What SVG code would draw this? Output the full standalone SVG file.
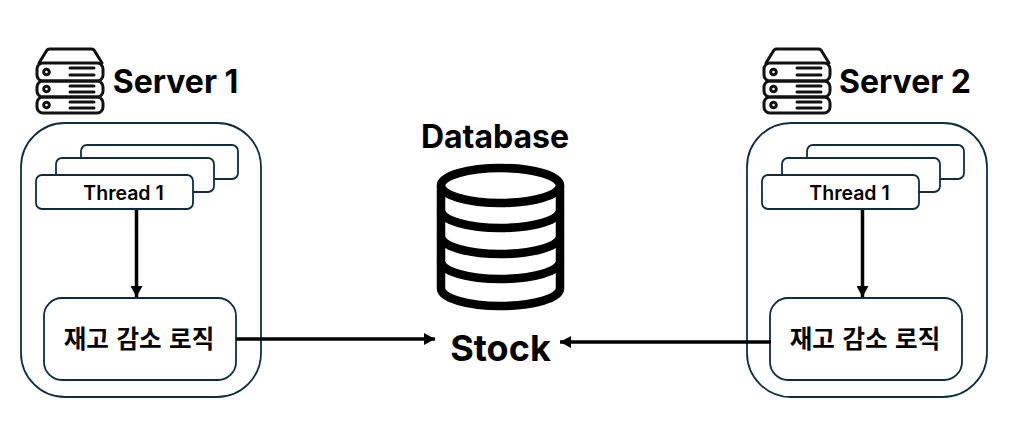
<svg xmlns="http://www.w3.org/2000/svg" width="1024" height="435" viewBox="0 0 1024 435">
<style>
.box{fill:#fff;stroke:#0f2d3c;stroke-width:1.8}
.t{font-family:Inter,"Noto Sans CJK KR",sans-serif;fill:#000;text-anchor:middle}
.h{font-size:32px;font-weight:700}
.th{font-size:19.500px;font-weight:600}
.k{font-size:24.500px;font-weight:700;font-family:"Noto Sans CJK KR",sans-serif;word-spacing:2px}
.ic{fill:none;stroke:#111;stroke-width:3;stroke-linejoin:round;stroke-linecap:round}
.ln{fill:none;stroke:#000;stroke-width:3.500}
.db{fill:none;stroke:#000;stroke-width:8.500}
</style>
<defs>
<marker id="a" markerUnits="userSpaceOnUse" markerWidth="12" markerHeight="12" refX="11" refY="6" orient="auto"><path d="M0 0L11 6L0 12Z" fill="#000"/></marker>
<g id="srv">
<path class="ic" d="M1 23L9 10Q10 9 12 9H53Q55 9 56 10L64 23"/>
<rect class="ic" x="-1" y="23" width="66" height="18" rx="6"/>
<rect class="ic" x="-1" y="41" width="66" height="16" rx="6"/>
<rect class="ic" x="-1" y="57" width="66" height="16" rx="6"/>
<circle class="ic" cx="8.500" cy="32" r="2.800"/><circle class="ic" cx="8.500" cy="49" r="2.800"/><circle class="ic" cx="8.500" cy="65" r="2.800"/>
<path class="ic" d="M32 28H56M32 35H56M32 46H56M32 52H56M32 62H56M32 68H56"/>
</g>
<g id="srvbox">
<rect class="box" x="0" y="0" width="240" height="274" rx="44"/>
<rect class="box" x="60" y="22" width="157" height="34" rx="6"/>
<rect class="box" x="35" y="35" width="158" height="34" rx="6"/>
<rect class="box" x="15" y="52" width="157" height="34" rx="6"/>
<rect class="box" x="23" y="175" width="192" height="82" rx="18"/>
</g>
</defs>
<g id="server1">
<use href="#srvbox" x="21" y="123"/>
<use href="#srv" x="38" y="40"/>
<text class="t h" x="175.500" y="93">Server 1</text>
<text class="t th" x="123.500" y="200">Thread 1</text>
<text class="t k" x="139" y="348">재고 감소 로직</text>
</g>
<g id="server2">
<use href="#srvbox" x="747" y="123"/>
<use href="#srv" x="765" y="40"/>
<text class="t h" x="905" y="93">Server 2</text>
<text class="t th" x="849.500" y="200">Thread 1</text>
<text class="t k" x="865" y="348">재고 감소 로직</text>
</g>
<g id="database">
<text class="t h" x="495" y="148">Database</text>
<ellipse class="db" cx="500.500" cy="185.500" rx="59.500" ry="17.500"/>
<path class="db" d="M441 185.500V288.500A59.500 17.500 0 0 0 560 288.500V185.500"/>
<path class="db" d="M441 210.500A59.500 17.500 0 0 0 560 210.500"/>
<path class="db" d="M441 236.500A59.500 17.500 0 0 0 560 236.500"/>
<path class="db" d="M441 261.500A59.500 17.500 0 0 0 560 261.500"/>
</g>
<g id="stock"><text class="t" x="500.500" y="361" style="font-size:36px;font-weight:700">Stock</text></g>
<g id="connectors">
<path class="ln" d="M136.500 210V297" marker-end="url(#a)"/>
<path class="ln" d="M862.500 210V297" marker-end="url(#a)"/>
<path class="ln" d="M236 339H435" marker-end="url(#a)"/>
<path class="ln" d="M771 342H560" marker-end="url(#a)"/>
</g>
</svg>
